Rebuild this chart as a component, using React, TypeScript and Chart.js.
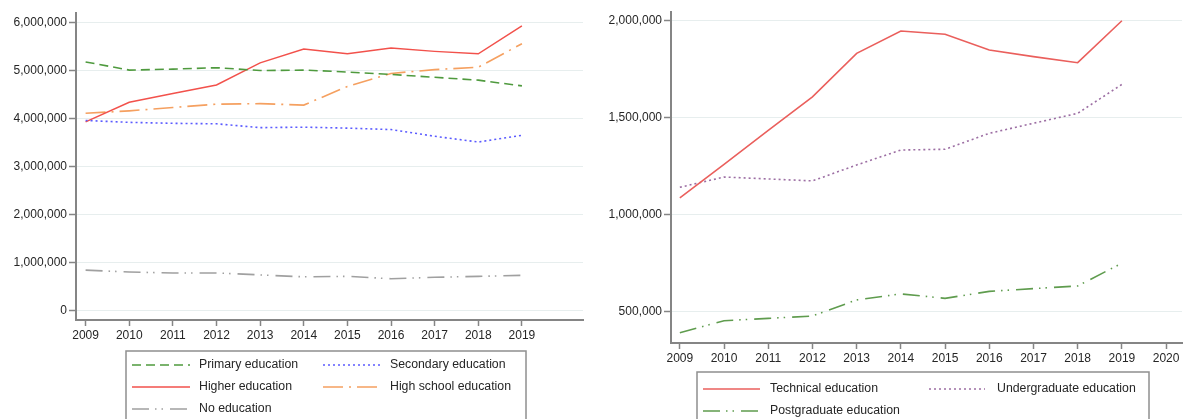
import React, { useEffect, useRef } from "react";
import { Chart, registerables } from "chart.js";
Chart.register(...registerables);

const years = [2009, 2010, 2011, 2012, 2013, 2014, 2015, 2016, 2017, 2018, 2019];
const leftXTicks = [2009, 2010, 2011, 2012, 2013, 2014, 2015, 2016, 2017, 2018, 2019];
const rightXTicks = [2009, 2010, 2011, 2012, 2013, 2014, 2015, 2016, 2017, 2018, 2019, 2020];
const leftYTicks = [0, 1000000, 2000000, 3000000, 4000000, 5000000, 6000000];
const rightYTicks = [500000, 1000000, 1500000, 2000000];

const primaryEducation = [5180000, 5010000, 5030000, 5060000, 5000000, 5010000, 4970000, 4920000, 4860000, 4800000, 4680000];
const secondaryEducation = [3960000, 3920000, 3900000, 3890000, 3810000, 3820000, 3800000, 3770000, 3630000, 3510000, 3650000];
const higherEducation = [3930000, 4340000, 4520000, 4700000, 5160000, 5450000, 5350000, 5470000, 5400000, 5350000, 5930000];
const highSchoolEducation = [4110000, 4160000, 4230000, 4300000, 4310000, 4280000, 4670000, 4940000, 5020000, 5070000, 5560000];
const noEducation = [840000, 800000, 780000, 780000, 740000, 700000, 710000, 660000, 690000, 710000, 730000];

const technicalEducation = [1087000, 1260000, 1435000, 1608000, 1832000, 1947000, 1930000, 1849000, 1815000, 1784000, 2000000];
const undergraduateEducation = [1142000, 1195000, 1185000, 1175000, 1257000, 1334000, 1338000, 1420000, 1472000, 1523000, 1672000];
const postgraduateEducation = [393000, 455000, 467000, 479000, 562000, 593000, 570000, 606000, 620000, 634000, 751000];

const FONT = "'Liberation Sans', Arial, Helvetica, sans-serif";
const AXIS = "#858585";
const GRID = "#e7eeee";
const TEXT = "#262626";

type Series = { label: string; values: number[]; color: string; dash: number[]; width: number };

const leftSeries: Series[] = [
  { label: "Primary education", values: primaryEducation, color: "#4f9a3e", dash: [9, 5], width: 1.6 },
  { label: "Secondary education", values: secondaryEducation, color: "#5b5bff", dash: [2, 3], width: 1.6 },
  { label: "Higher education", values: higherEducation, color: "#f2514b", dash: [], width: 1.5 },
  { label: "High school education", values: highSchoolEducation, color: "#f5a060", dash: [20, 6, 2, 6], width: 1.6 },
  { label: "No education", values: noEducation, color: "#a0a0a0", dash: [17, 6, 1.5, 5, 1.5, 7], width: 1.6 },
];

const rightSeries: Series[] = [
  { label: "Technical education", values: technicalEducation, color: "#ea5f5c", dash: [], width: 1.6 },
  { label: "Undergraduate education", values: undergraduateEducation, color: "#9c6ea3", dash: [2, 3], width: 1.6 },
  { label: "Postgraduate education", values: postgraduateEducation, color: "#5f9c4e", dash: [17, 6, 1.5, 5, 1.5, 7], width: 1.6 },
];

type LegendEntry = { s: Series; x1: number; x2: number; tx: number; y: number };

function makeLegendPlugin(box: { x: number; y: number; w: number; h: number }, entries: LegendEntry[]) {
  return {
    id: "customLegend",
    afterDraw(chart: any) {
      const ctx = chart.ctx as CanvasRenderingContext2D;
      ctx.save();
      ctx.strokeStyle = "#8f8f8f";
      ctx.lineWidth = 1.5;
      ctx.setLineDash([]);
      ctx.strokeRect(box.x, box.y, box.w, box.h);
      for (const e of entries) {
        ctx.beginPath();
        ctx.strokeStyle = e.s.color;
        ctx.lineWidth = e.s.width;
        ctx.setLineDash(e.s.dash);
        ctx.moveTo(e.x1, e.y);
        ctx.lineTo(e.x2, e.y);
        ctx.stroke();
        ctx.setLineDash([]);
        ctx.fillStyle = TEXT;
        ctx.font = `12.3px ${FONT}`;
        ctx.textBaseline = "middle";
        ctx.textAlign = "left";
        ctx.fillText(e.s.label, e.tx, e.y);
      }
      ctx.restore();
    },
  };
}

function buildConfig(opts: {
  series: Series[];
  xMin: number;
  xMax: number;
  yMin: number;
  yMax: number;
  xTicks: number[];
  yTicks: number[];
  padding: { left: number; right: number; top: number; bottom: number };
  yWidth: number;
  xHeight: number;
  plugin: any;
}): any {
  return {
    type: "line",
    data: {
      datasets: opts.series.map((s) => ({
        label: s.label,
        data: years.map((yr, i) => ({ x: yr, y: s.values[i] })),
        borderColor: s.color,
        backgroundColor: s.color,
        borderWidth: s.width,
        borderDash: s.dash,
        pointRadius: 0,
        tension: 0,
        fill: false,
      })),
    },
    options: {
      responsive: false,
      animation: false,
      devicePixelRatio: 1,
      layout: { padding: opts.padding },
      plugins: { legend: { display: false }, tooltip: { enabled: false } },
      scales: {
        x: {
          type: "linear",
          min: opts.xMin,
          max: opts.xMax,
          afterBuildTicks: (scale: any) => {
            scale.ticks = opts.xTicks.map((v) => ({ value: v }));
          },
          afterFit: (scale: any) => {
            scale.height = opts.xHeight;
          },
          ticks: {
            autoSkip: false,
            maxRotation: 0,
            color: TEXT,
            font: { family: FONT, size: 12 },
            padding: 2,
            callback: (v: any) => String(v),
          },
          grid: { drawOnChartArea: false, drawTicks: true, tickLength: 6, tickColor: AXIS, tickWidth: 1.5 },
          border: { display: true, color: AXIS, width: 2 },
        },
        y: {
          type: "linear",
          min: opts.yMin,
          max: opts.yMax,
          afterBuildTicks: (scale: any) => {
            scale.ticks = opts.yTicks.map((v) => ({ value: v }));
          },
          afterFit: (scale: any) => {
            scale.width = opts.yWidth;
          },
          ticks: {
            color: TEXT,
            font: { family: FONT, size: 12 },
            padding: 2,
            callback: (v: any) => Number(v).toLocaleString("en-US"),
          },
          grid: { color: GRID, lineWidth: 1, drawTicks: true, tickLength: 7, tickColor: AXIS, tickWidth: 1.5 },
          border: { display: true, color: AXIS, width: 2 },
        },
      },
    },
    plugins: [opts.plugin],
  };
}

function ChartCanvas({ config, width, height, left }: { config: () => any; width: number; height: number; left: number }) {
  const ref = useRef<HTMLCanvasElement | null>(null);
  useEffect(() => {
    if (!ref.current) return;
    const chart = new Chart(ref.current, config());
    return () => chart.destroy();
  }, []);
  return (
    <canvas
      ref={ref}
      width={width}
      height={height}
      style={{ position: "absolute", left, top: 0, width, height }}
    />
  );
}

export default function App() {
  useEffect(() => {
    document.body.style.margin = "0";
    document.body.style.overflow = "hidden";
    document.body.style.background = "#ffffff";
  }, []);

  const leftConfig = () =>
    buildConfig({
      series: leftSeries,
      xMin: 2008.78,
      xMax: 2020.4,
      yMin: -200000,
      yMax: 6200000,
      xTicks: leftXTicks,
      yTicks: leftYTicks,
      padding: { left: 0, right: 12, top: 13, bottom: 69 },
      yWidth: 76,
      xHeight: 30,
      plugin: makeLegendPlugin({ x: 126, y: 351, w: 400, h: 80 }, [
        { s: leftSeries[0], x1: 132, x2: 190, tx: 199, y: 365 },
        { s: leftSeries[1], x1: 323, x2: 380, tx: 390, y: 365 },
        { s: leftSeries[2], x1: 132, x2: 190, tx: 199, y: 387 },
        { s: leftSeries[3], x1: 323, x2: 380, tx: 390, y: 387 },
        { s: leftSeries[4], x1: 132, x2: 190, tx: 199, y: 409 },
      ]),
    });

  const rOff = 595;
  const rightConfig = () =>
    buildConfig({
      series: rightSeries,
      xMin: 2008.8,
      xMax: 2020.36,
      yMin: 340000,
      yMax: 2045000,
      xTicks: rightXTicks,
      yTicks: rightYTicks,
      padding: { left: 0, right: 7, top: 12, bottom: 46 },
      yWidth: 76,
      xHeight: 30,
      plugin: makeLegendPlugin({ x: 697 - rOff, y: 372, w: 452, h: 60 }, [
        { s: rightSeries[0], x1: 703 - rOff, x2: 760 - rOff, tx: 770 - rOff, y: 389 },
        { s: rightSeries[1], x1: 929 - rOff, x2: 985 - rOff, tx: 997 - rOff, y: 389 },
        { s: rightSeries[2], x1: 703 - rOff, x2: 760 - rOff, tx: 770 - rOff, y: 411 },
      ]),
    });

  return (
    <div style={{ position: "absolute", left: 0, top: 0, width: 1189, height: 419, background: "#fff", overflow: "hidden" }}>
      <ChartCanvas config={leftConfig} width={595} height={419} left={0} />
      <ChartCanvas config={rightConfig} width={594} height={419} left={rOff} />
    </div>
  );
}
